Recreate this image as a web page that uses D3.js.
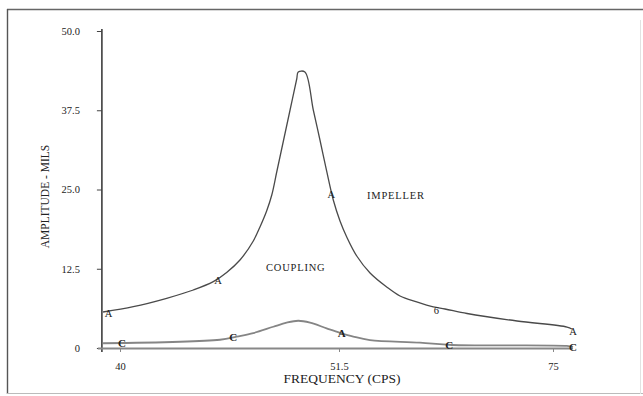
<!DOCTYPE html>
<html>
<head>
<meta charset="utf-8">
<script src="https://cdn.jsdelivr.net/npm/d3@7"></script>
<style>
  html, body { margin: 0; padding: 0; background: #fff; }
  svg { display: block; }
  text { font-family: "Liberation Serif", "DejaVu Serif", serif; fill: #222; }
</style>
</head>
<body>
<svg id="chart" width="643" height="396"></svg>
<script>
// Frequency (cps) and amplitude (mils) readings for the impeller and coupling
const impellerFreq = [39.11, 40.7, 42.45, 43.85, 44.9, 45.6, 46.3, 47.0, 47.35, 47.7, 47.97, 48.23, 48.58, 48.93, 49.28, 49.36, 49.71, 50.15, 50.5, 50.85, 51.2, 51.61, 52.35, 53.45, 54.91, 56.74, 58.2, 60.03, 61.86, 63.14, 65.56, 71.05, 76.54, 77.07];
const impellerAmp  = [5.68, 6.51, 7.84, 9.15, 10.46, 11.91, 13.88, 16.88, 19.09, 21.61, 24.13, 27.76, 32.65, 37.54, 42.43, 43.53, 43.53, 37.54, 32.81, 27.92, 23.34, 20.03, 17.51, 14.51, 11.83, 9.62, 8.2, 7.26, 6.47, 6.15, 5.44, 4.26, 3.31, 3.0];

const couplingFreq = [39.11, 45.25, 46.13, 47.0, 48.05, 48.75, 49.36, 49.98, 50.85, 51.61, 53.07, 54.9, 60.39, 63.9, 76.52, 77.2];
const couplingAmp  = [0.75, 1.3, 1.8, 2.35, 3.35, 4.0, 4.3, 4.0, 3.1, 2.4, 1.8, 1.25, 0.85, 0.47, 0.32, 0.16];

// Point letters written along each curve
const impellerMarkFreq = [39.4, 45.15, 51.1, 62.2, 77.2];
const impellerMarkText = ["A", "A", "A", "6", "A"];
const couplingMarkFreq = [40.1, 45.95, 51.8, 63.6, 77.2];
const couplingMarkText = ["C", "C", "A", "C", "C"];

// Axis ticks
const xTickValues = [40, 51.5, 75];
const xTickLabels = ["40", "51.5", "75"];
const yTickValues = [0, 12.5, 25, 37.5, 50];
const yTickLabels = ["0", "12.5", "25.0", "37.5", "50.0"];

const svg = d3.select("#chart");

// Hand-plotted frequency axis: piecewise-linear between labelled ticks
const x = d3.scaleLinear().domain([40, 51.5, 75]).range([120, 339, 553]);
const y = d3.scaleLinear().domain([0, 50]).range([348, 31]);
const axisX = x(39.05);

// Outer frame
svg.append("line").attr("x1", 7).attr("x2", 643).attr("y1", 9.5).attr("y2", 9.5)
  .attr("stroke", "#666").attr("stroke-width", 1.4);
svg.append("line").attr("x1", 7.5).attr("x2", 7.5).attr("y1", 9).attr("y2", 394)
  .attr("stroke", "#555").attr("stroke-width", 1.4);
svg.append("line").attr("x1", 7).attr("x2", 643).attr("y1", 393.5).attr("y2", 393.5)
  .attr("stroke", "#bbb").attr("stroke-width", 1);
svg.append("line").attr("x1", 640.5).attr("x2", 640.5).attr("y1", 20).attr("y2", 394)
  .attr("stroke", "#e2e2e2").attr("stroke-width", 1);

// Y axis
const yAxis = d3.axisLeft(y).tickValues(yTickValues)
  .tickFormat((d, i) => yTickLabels[i]).tickSize(5).tickPadding(17);
const gy = svg.append("g").attr("transform", `translate(${axisX},0)`).call(yAxis);
gy.select(".domain").attr("stroke", "#222").attr("stroke-width", 1.4)
  .attr("d", `M0,${y(50) - 2}V${y(0) + 4}`);
gy.selectAll(".tick line").attr("stroke", "#444");
gy.selectAll(".tick text").attr("font-size", 10.5).attr("font-family", "Liberation Serif").attr("fill", "#222");

// X axis (zero line)
svg.append("line").attr("x1", axisX - 4).attr("x2", x(77.2)).attr("y1", y(0) + 0.5).attr("y2", y(0) + 0.5)
  .attr("stroke", "#888").attr("stroke-width", 1.8);
const xAxis = d3.axisBottom(x).tickValues(xTickValues)
  .tickFormat((d, i) => xTickLabels[i]).tickSize(4).tickPadding(11);
const gx = svg.append("g").attr("transform", `translate(0,${y(0)})`).call(xAxis);
gx.select(".domain").remove();
gx.selectAll(".tick line").attr("stroke", "#888");
gx.selectAll(".tick text").attr("font-size", 10.5).attr("font-family", "Liberation Serif")
  .attr("fill", (d) => d === 51.5 ? "#888" : "#222");

// Axis titles
svg.append("text").attr("transform", `translate(49,${(y(0) + y(50)) / 2 + 7}) rotate(-90)`)
  .attr("text-anchor", "middle").attr("font-size", 11.5).text("AMPLITUDE - MILS");
svg.append("text").attr("x", 342).attr("y", 383).attr("text-anchor", "middle")
  .attr("font-size", 13.5).text("FREQUENCY (CPS)");

// Curves
const line = d3.line().curve(d3.curveCatmullRom.alpha(0.5));
const impellerPts = impellerFreq.map((f, i) => [x(f), y(impellerAmp[i])]);
const couplingPts = couplingFreq.map((f, i) => [x(f), y(couplingAmp[i])]);

svg.append("path").attr("d", line(impellerPts)).attr("fill", "none")
  .attr("stroke", "#4a4a4a").attr("stroke-width", 1.3);
svg.append("path").attr("d", line(couplingPts)).attr("fill", "none")
  .attr("stroke", "#858585").attr("stroke-width", 1.8);

// Letters along the curves, placed on the interpolated curve height
function interp(fs, vs, f) {
  const i = Math.max(1, Math.min(fs.length - 1, d3.bisectLeft(fs, f)));
  const t = (f - fs[i - 1]) / (fs[i] - fs[i - 1]);
  return vs[i - 1] + t * (vs[i] - vs[i - 1]);
}
svg.selectAll(".markA").data(impellerMarkFreq).join("text")
  .attr("x", (d) => x(d)).attr("y", (d) => y(interp(impellerFreq, impellerAmp, d)) + 6)
  .attr("text-anchor", "middle").attr("font-size", 10.5)
  .attr("fill", "#333").text((d, i) => impellerMarkText[i]);
svg.selectAll(".markC").data(couplingMarkFreq).join("text")
  .attr("x", (d) => x(d)).attr("y", (d) => y(interp(couplingFreq, couplingAmp, d)) + 4)
  .attr("text-anchor", "middle").attr("font-size", 11).attr("font-weight", "bold")
  .attr("fill", "#888").text((d, i) => couplingMarkText[i]);

// Curve names
svg.append("text").attr("x", 367).attr("y", 199).attr("font-size", 10.5)
  .attr("letter-spacing", 0.8).text("IMPELLER");
svg.append("text").attr("x", 266).attr("y", 271).attr("font-size", 10.5)
  .attr("letter-spacing", 0.8).text("COUPLING");
</script>
</body>
</html>
